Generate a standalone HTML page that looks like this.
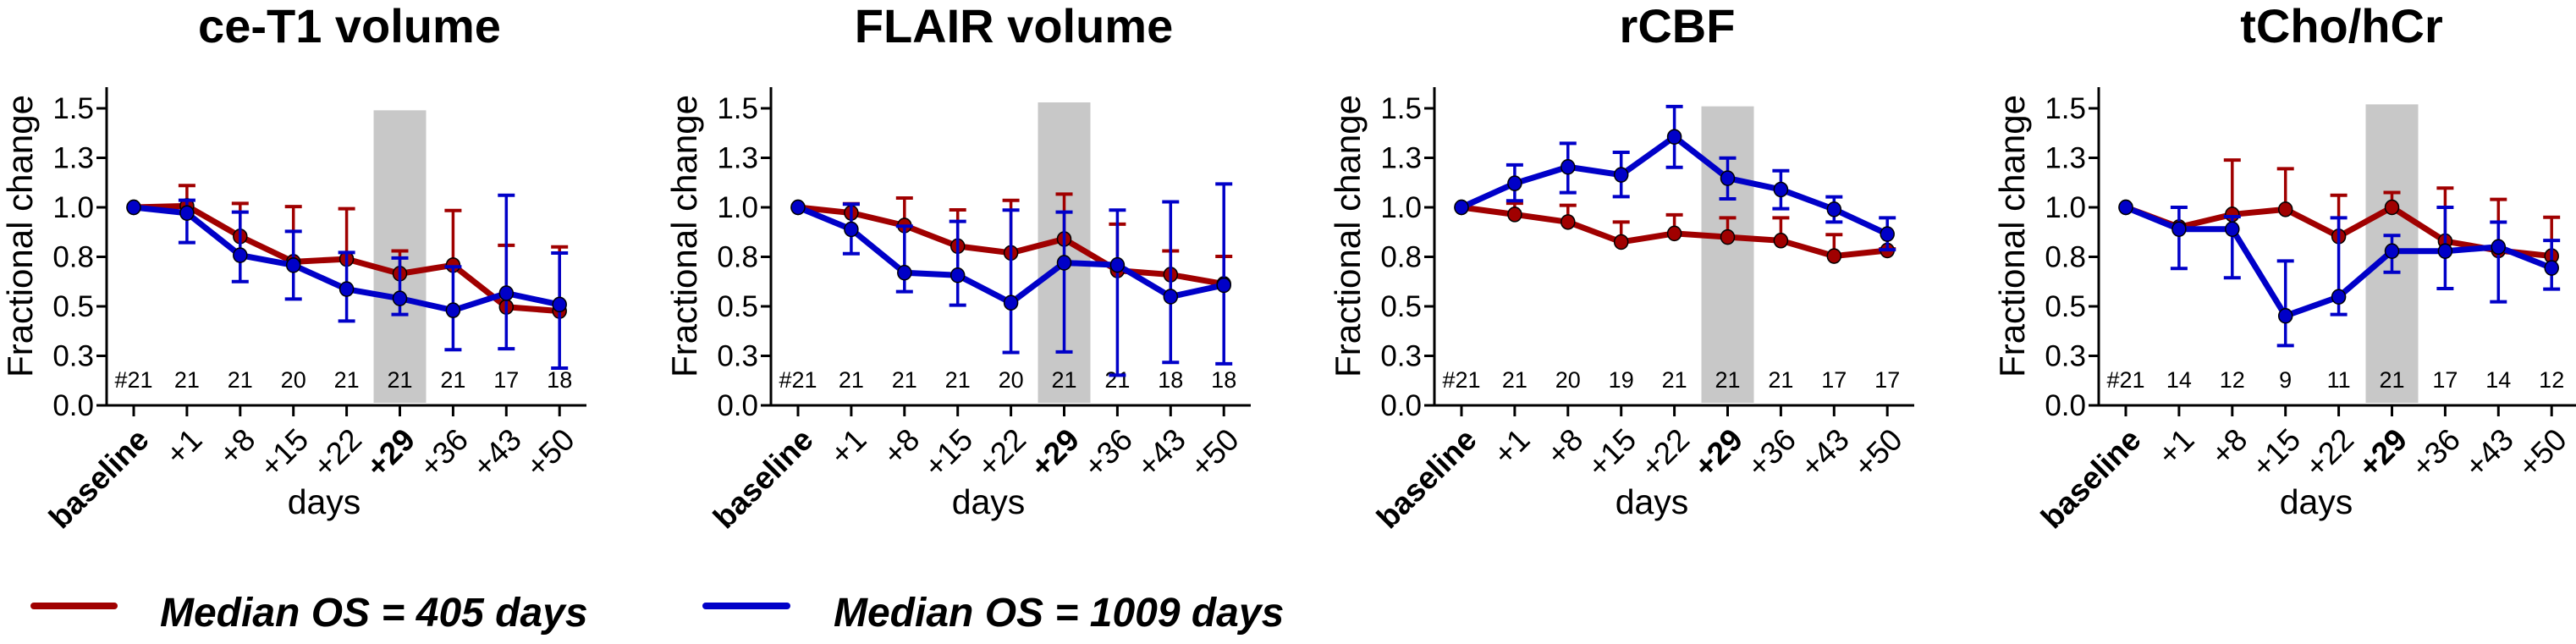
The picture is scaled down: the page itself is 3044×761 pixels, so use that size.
<!DOCTYPE html>
<html><head><meta charset="utf-8"><style>
html,body{margin:0;padding:0;background:#fff;}
svg{display:block;font-family:"Liberation Sans",Arial,sans-serif;}
</style></head><body>
<svg id="fig" width="3044" height="761" viewBox="0 0 3044 761" xmlns="http://www.w3.org/2000/svg">
<g id="panels"></g>
<g>
  <g>
    <line x1="40" y1="716" x2="135" y2="716" stroke="#a00000" stroke-width="8" stroke-linecap="round"/>
    <text x="189" y="740" font-size="48" font-weight="bold" font-style="italic">Median OS = 405 days</text>
  </g>
  <g>
    <line x1="834" y1="716" x2="930" y2="716" stroke="#0000c8" stroke-width="8" stroke-linecap="round"/>
    <text x="985" y="740" font-size="48" font-weight="bold" font-style="italic">Median OS = 1009 days</text>
  </g>
</g>
</svg>
<script>
const titles = ["ce-T1 volume","FLAIR volume","rCBF","tCho/hCr"];
const categories = ["baseline","+1","+8","+15","+22","+29","+36","+43","+50"];
const yTicks = [0,0.25,0.5,0.75,1.0,1.25,1.5];
const yTickLabels = ["0.0","0.3","0.5","0.8","1.0","1.3","1.5"];
const bandTop = [1.49,1.53,1.51,1.52];
const counts = [
  ["#21","21","21","20","21","21","21","17","18"],
  ["#21","21","21","21","20","21","21","18","18"],
  ["#21","21","20","19","21","21","21","17","17"],
  ["#21","14","12","9","11","21","17","14","12"]
];
const redMed = [
  [1.0,1.007,0.853,0.725,0.739,0.665,0.708,0.497,0.476],
  [1.0,0.972,0.908,0.804,0.770,0.840,0.681,0.660,0.613],
  [1.0,0.964,0.926,0.825,0.868,0.850,0.832,0.754,0.782],
  [1.0,0.90,0.964,0.990,0.853,1.0,0.829,0.782,0.754]
];
const redUp = [
  [1.0,1.11,1.02,1.004,0.993,0.78,0.984,0.808,0.80],
  [1.0,1.018,1.047,0.987,1.035,1.067,0.915,0.780,0.752],
  [1.0,1.021,1.01,0.926,0.962,0.947,0.947,0.862,0.79],
  [1.0,0.90,1.239,1.195,1.061,1.075,1.097,1.04,0.95]
];
const blueMed = [
  [1.0,0.971,0.758,0.708,0.587,0.54,0.48,0.566,0.509],
  [1.0,0.889,0.670,0.657,0.518,0.72,0.709,0.549,0.607],
  [1.0,1.121,1.204,1.164,1.356,1.147,1.09,0.990,0.865],
  [1.0,0.89,0.89,0.452,0.548,0.779,0.779,0.80,0.694]
];
const blueUp = [
  [1.0,1.036,0.976,0.879,0.772,0.744,0.70,1.061,0.769],
  [1.0,1.016,0.905,0.929,0.986,0.976,0.986,1.028,1.118],
  [1.0,1.214,1.323,1.278,1.509,1.249,1.185,1.053,0.947],
  [1.0,1.0,0.953,0.729,0.947,0.858,1.0,0.925,0.833]
];
const blueLo = [
  [1.0,0.822,0.625,0.537,0.426,0.459,0.281,0.286,0.188],
  [1.0,0.766,0.574,0.506,0.267,0.27,0.152,0.217,0.21],
  [1.0,1.033,1.074,1.054,1.202,1.043,0.993,0.926,0.786],
  [1.0,0.691,0.644,0.302,0.459,0.672,0.590,0.523,0.587]
];

const NS="http://www.w3.org/2000/svg";
const offsets=[0,785,1569,2354];
const AX=126, X0=158, DX=62.9, Y0=479, PPU=234;
function xs(i){return X0+i*DX;}
function ys(v){return Y0-v*PPU;}
function mk(tag,attrs,parent){const e=document.createElementNS(NS,tag);for(const k in attrs)e.setAttribute(k,attrs[k]);parent.appendChild(e);return e;}
const root=document.getElementById('panels');
const RED="#a00000", BLUE="#0000c8";

titles.forEach((t,p)=>{
  const g=mk('g',{transform:`translate(${offsets[p]},0)`},root);
  
  
  const band=mk('rect',{x:xs(5)-31,y:ys(bandTop[p]),width:62,height:ys(0)-ys(bandTop[p])-3,fill:'#c8c8c8'},g);
  
  
  const tt=mk('text',{x:413,y:50,'font-size':56,'font-weight':'bold','text-anchor':'middle'},g);
  tt.textContent=t;
  
  
  const ya=mk('line',{x1:AX,y1:103,x2:AX,y2:Y0+1.5,stroke:'#000','stroke-width':3},g);
  
  
  yTicks.forEach((v,i)=>{
    const tk=mk('line',{x1:AX-12,y1:ys(v),x2:AX,y2:ys(v),stroke:'#000','stroke-width':3},g);
    
    
    const tl=mk('text',{x:AX-15,y:ys(v)+12,'font-size':35,'text-anchor':'end'},g);
    tl.textContent=yTickLabels[i];
    
    
  });
  const yt=mk('text',{x:0,y:0,'font-size':42,'text-anchor':'middle',transform:`translate(38,279) rotate(-90)`},g);
  yt.textContent='Fractional change';
  
  
  const xa=mk('line',{x1:AX-12,y1:Y0,x2:693,y2:Y0,stroke:'#000','stroke-width':3},g);
  
  
  categories.forEach((c,i)=>{
    const tk=mk('line',{x1:xs(i),y1:Y0,x2:xs(i),y2:Y0+13,stroke:'#000','stroke-width':3},g);
    
    
    const bold=(c==='baseline'||c==='+29');
    const tl=mk('text',{x:0,y:0,'font-size':37,'text-anchor':'end','font-weight':bold?'bold':'normal',transform:`translate(${xs(i)+20},522) rotate(-45)`},g);
    tl.textContent=c;
    
    
    const ct=mk('text',{x:xs(i),y:458,'font-size':27,'text-anchor':'middle'},g);
    ct.textContent=counts[p][i];
    
    
  });
  const xt=mk('text',{x:383,y:607,'font-size':41,'text-anchor':'middle'},g);
  xt.textContent='days';
  
  

  function series(med,up,lo,color,name){
    const sg=mk('g',{},g);
    
    
    med.forEach((v,i)=>{
      if(i===0)return;
      const top=up[i], bot=lo?lo[i]:v;
      const eb=mk('line',{x1:xs(i),y1:ys(top),x2:xs(i),y2:ys(bot),stroke:color,'stroke-width':3.5},sg);
      
      
      const c1=mk('line',{x1:xs(i)-10,y1:ys(top),x2:xs(i)+10,y2:ys(top),stroke:color,'stroke-width':4},sg);
      
      
      if(lo){
        const c2=mk('line',{x1:xs(i)-10,y1:ys(bot),x2:xs(i)+10,y2:ys(bot),stroke:color,'stroke-width':4},sg);
        
        
      }
    });
    const pl=mk('polyline',{points:med.map((v,i)=>xs(i)+','+ys(v)).join(' '),fill:'none',stroke:color,'stroke-width':7,'stroke-linejoin':'round'},sg);
    
    
    med.forEach((v,i)=>{
      const pt=mk('ellipse',{cx:xs(i),cy:ys(v),rx:8,ry:8.5,fill:color,stroke:'#000','stroke-width':1.5},sg);
      
      
    });
  }
  series(redMed[p],redUp[p],null,RED,'series-os-405');
  series(blueMed[p],blueUp[p],blueLo[p],BLUE,'series-os-1009');
});
</script>
</body></html>
